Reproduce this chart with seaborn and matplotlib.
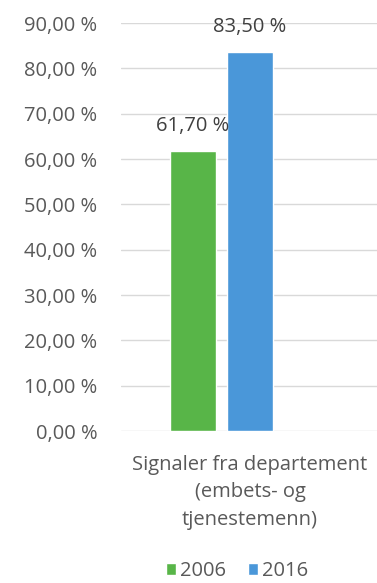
import pandas as pd
import matplotlib.pyplot as plt
import seaborn as sns

# data
category = ["Signaler fra departement\n(embets- og\ntjenestemenn)"]
years = ["2006", "2016"]
values_2006 = [61.7]
values_2016 = [83.5]
yticks = [0, 10, 20, 30, 40, 50, 60, 70, 80, 90]

colors = {"2006": "#58B548", "2016": "#4A97D9", " ": "#FFFFFF"}

df = pd.DataFrame({
    "kategori": category * 2,
    "aar": years[0:1] * len(values_2006) + years[1:2] * len(values_2016),
    "verdi": values_2006 + values_2016,
})

sns.set_style("white")
plt.rcParams["font.family"] = ["Open Sans", "DejaVu Sans"]
fs = 14.5

fig = plt.figure(figsize=(3.77, 5.83), dpi=100)
ax = fig.add_axes([121 / 377, 1 - 431 / 583, 1 - 121 / 377, (431 - 23) / 583])

# tredje (tom) gruppe gir samme plassering som i Excel
sns.barplot(data=df, x="kategori", y="verdi", hue="aar",
            hue_order=["2006", "2016", " "], palette=colors,
            width=0.8, gap=0.2, ax=ax, saturation=1)

ax.set_ylim(0, 90)
ax.set_xlim(-0.603, 0.593)
ax.set_yticks(yticks)
ax.set_yticklabels([f"{v:.2f} %".replace(".", ",") for v in yticks])
ax.yaxis.grid(True, color="#D9D9D9", linewidth=1)
ax.set_axisbelow(True)
for s in ax.spines.values():
    s.set_visible(False)
ax.tick_params(axis="both", length=0, colors="#595959", labelsize=fs)
ax.tick_params(axis="y", pad=17)
ax.tick_params(axis="x", pad=17)
for t in ax.get_xticklabels():
    t.set_horizontalalignment("center")
    t.set_linespacing(1.5)
ax.set_xlabel("")
ax.set_ylabel("")

for cont in ax.containers[:2]:
    ax.bar_label(cont, fmt=lambda v: f"{v:.2f} %".replace(".", ","),
                 padding=11, fontsize=fs, color="#404040")

handles, labels = ax.get_legend_handles_labels()
ax.legend_.remove()
fig.legend(handles[:2], labels[:2], loc="center", ncol=2, frameon=False,
           bbox_to_anchor=(237 / 377, 12 / 583), fontsize=fs,
           handlelength=0.5, handleheight=0.5, handletextpad=0.2,
           columnspacing=1.1, labelcolor="#595959")

fig.savefig("out.png", dpi=100)
